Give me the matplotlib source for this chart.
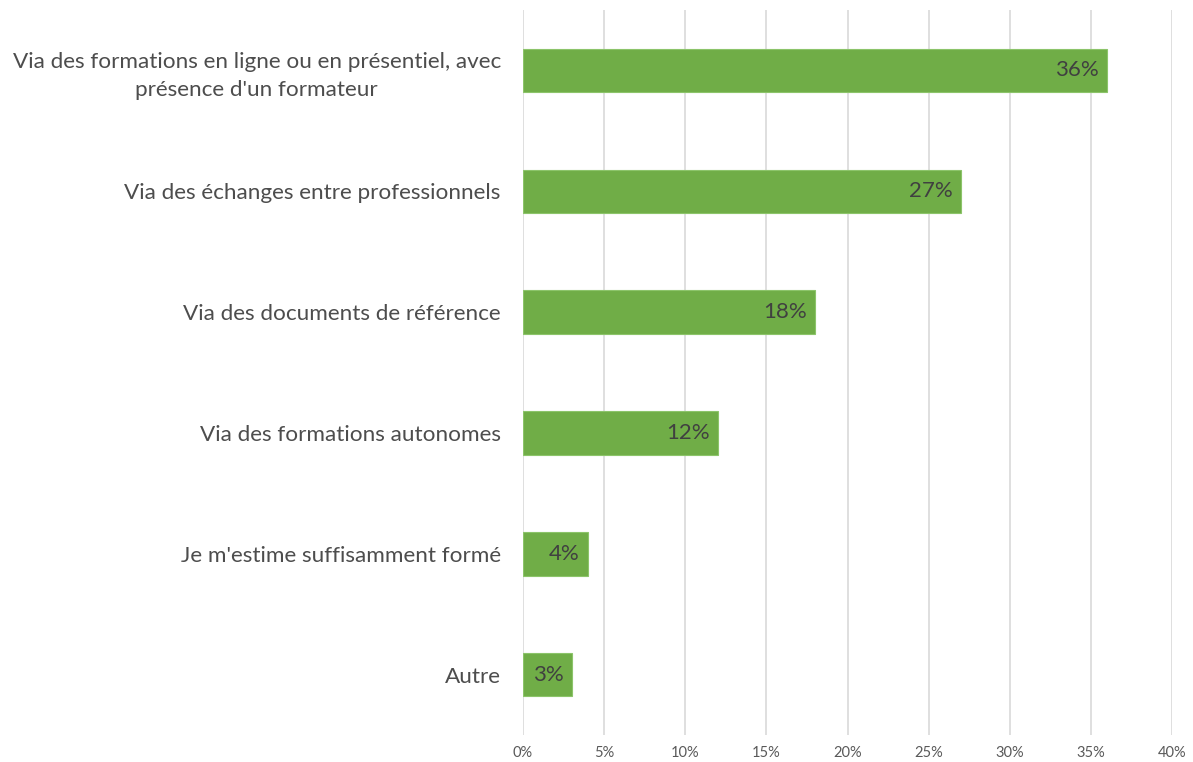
import matplotlib
matplotlib.use("Agg")
import matplotlib.pyplot as plt
from matplotlib.ticker import FuncFormatter, MultipleLocator
from matplotlib import transforms

categories = [
    "Via des formations en ligne ou en présentiel, avec\nprésence d'un formateur",
    "Via des échanges entre professionnels",
    "Via des documents de référence",
    "Via des formations autonomes",
    "Je m'estime suffisamment formé",
    "Autre",
]
values = [36, 27, 18, 12, 4, 3]
labels = ["36%", "27%", "18%", "12%", "4%", "3%"]

plt.rcParams['font.family'] = ['Lato', 'DejaVu Sans']

fig = plt.figure(figsize=(11.93, 7.62), dpi=100)
ax = fig.add_axes([523/1193, 1 - 735/762, (1172-523)/1193, (735-10)/762])

y = list(range(len(categories)))
bars = ax.barh(y, values, height=0.36, color="#70AD47", edgecolor="#8CC46A", linewidth=0.8, zorder=3)
ax.set_ylim(len(categories) - 0.5, -0.5)
ax.set_xlim(0, 40)
ax.xaxis.set_major_locator(MultipleLocator(5))
ax.xaxis.set_major_formatter(FuncFormatter(lambda v, p: f"{int(round(v))}%"))
ax.grid(axis="x", color="#D9D9D9", linewidth=1.2, zorder=0)
ax.set_axisbelow(True)
for s in ax.spines.values():
    s.set_visible(False)
ax.tick_params(axis="both", length=0)
ax.tick_params(axis="x", labelsize=10.5, colors="#595959", pad=8)
ax.set_yticks(y)
ax.set_yticklabels(categories, fontsize=16.2, color="#4D4D4D", multialignment="center",
                   linespacing=1.45)
ax.tick_params(axis="y", pad=16)

offset = transforms.offset_copy(ax.transData, fig=fig, x=-8, y=0, units="dots")
for yi, v, lab in zip(y, values, labels):
    ax.text(v, yi, lab, transform=offset, ha="right", va="center",
            fontsize=16, color="#404040", zorder=4)

fig.savefig("out.png", dpi=100, facecolor="white")
